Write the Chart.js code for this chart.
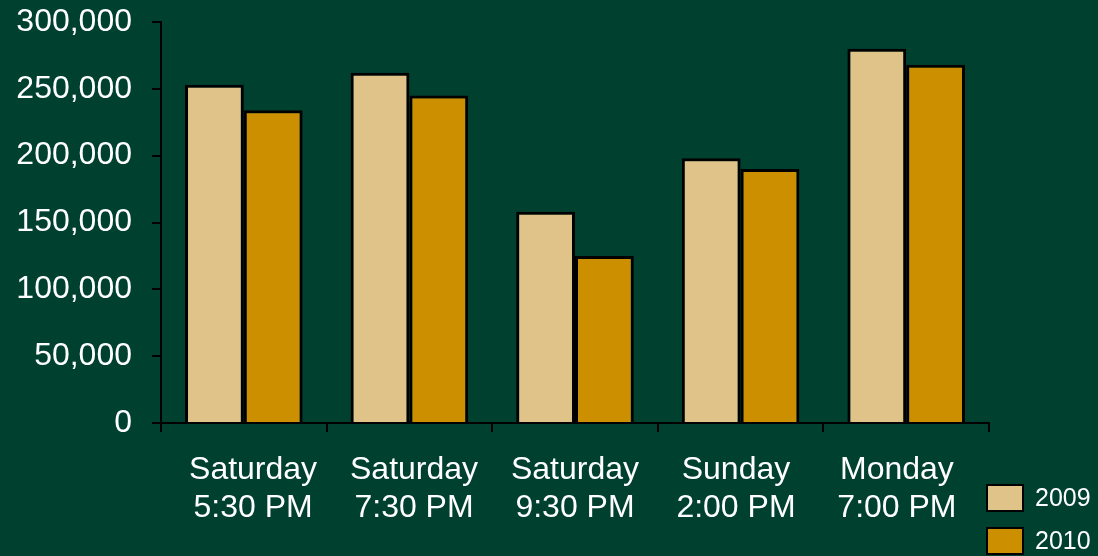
<!DOCTYPE html>
<html>
<head>
<meta charset="utf-8">
<script src="https://cdn.jsdelivr.net/npm/chart.js@4/dist/chart.umd.min.js"></script>
<style>
  html, body { margin: 0; padding: 0; background: #00402F; }
  #wrap { width: 1098px; height: 556px; }
</style>
</head>
<body>
<div id="wrap"><canvas id="c" width="1098" height="556"></canvas></div>
<script>
// Time slots and attendance per year
const slots = [
  ["Saturday", "5:30 PM"],
  ["Saturday", "7:30 PM"],
  ["Saturday", "9:30 PM"],
  ["Sunday", "2:00 PM"],
  ["Monday", "7:00 PM"]
];
const seriesNames = ["2009", "2010"];
const values2009 = [253000, 262000, 158000, 198000, 280000];
const values2010 = [234000, 245000, 125000, 190000, 268000];
const yTicks = [0, 50000, 100000, 150000, 200000, 250000, 300000];

const FONT = "'Liberation Sans', Arial, sans-serif";
const colors = ["#E0C389", "#CC8F00"];

// Category labels sit slightly closer together than the category centres
const labelSpread = {
  id: "labelSpread",
  beforeDraw(chart) {
    const scale = chart.scales.x;
    if (!scale || typeof scale.getLabelItems !== "function") return;
    const items = scale.getLabelItems();
    if (!items || items._spread) return;
    const mid = (chart.chartArea.left + chart.chartArea.right) / 2;
    items.forEach(it => {
      const t = it.options && it.options.translation;
      if (t) t[0] = mid + (t[0] - mid) * 0.972;
    });
    items._spread = true;
  }
};

// Vertical legend in the lower right corner, built from the datasets
const cornerLegend = {
  id: "cornerLegend",
  afterDraw(chart) {
    const ctx = chart.ctx;
    ctx.save();
    chart.data.datasets.forEach((ds, i) => {
      const x = 986, y = 484 + i * 43;
      ctx.fillStyle = ds.backgroundColor;
      ctx.fillRect(x, y, 38, 28);
      ctx.lineWidth = 2;
      ctx.strokeStyle = "#000";
      ctx.strokeRect(x + 1, y + 1, 36, 26);
      ctx.fillStyle = "#fff";
      ctx.font = "25px " + FONT;
      ctx.textBaseline = "middle";
      ctx.textAlign = "left";
      ctx.fillText(ds.label, 1035, y + 15);
    });
    ctx.restore();
  }
};

new Chart(document.getElementById("c"), {
  type: "bar",
  data: {
    labels: slots,
    datasets: [
      { label: seriesNames[0], data: values2009, backgroundColor: colors[0] },
      { label: seriesNames[1], data: values2010, backgroundColor: colors[1] }
    ]
  },
  options: {
    responsive: false,
    animation: false,
    layout: { padding: { left: 16, right: 109, top: 22, bottom: 35 } },
    datasets: {
      bar: {
        borderColor: "#000",
        borderWidth: 3,
        borderSkipped: "start",
        barPercentage: 1.0,
        categoryPercentage: 0.71
      }
    },
    plugins: {
      legend: { display: false },
      tooltip: { enabled: false }
    },
    scales: {
      x: {
        offset: true,
        afterFit(scale) {
          scale.height = 98;
          scale.paddingLeft = 0;
          scale.paddingRight = 0;
        },
        grid: { display: true, offset: true, drawOnChartArea: false, tickLength: 9, color: "#000", lineWidth: 2 },
        border: { display: true, color: "#000", width: 2 },
        ticks: {
          color: "#fff",
          padding: 19,
          maxRotation: 0,
          font: { family: FONT, size: 32, lineHeight: 1.2 }
        }
      },
      y: {
        min: 0,
        max: 300000,
        afterBuildTicks(scale) { scale.ticks = yTicks.map(v => ({ value: v })); },
        afterFit(scale) {
          scale.width = 145;
          scale.paddingTop = 0;
          scale.paddingBottom = 0;
        },
        grid: { display: true, drawOnChartArea: false, tickLength: 9, color: "#000", lineWidth: 2 },
        border: { display: true, color: "#000", width: 2 },
        ticks: {
          color: "#fff",
          padding: 20,
          font: { family: FONT, size: 32 },
          callback: v => v.toLocaleString("en-US")
        }
      }
    }
  },
  plugins: [labelSpread, cornerLegend]
});
</script>
</body>
</html>
